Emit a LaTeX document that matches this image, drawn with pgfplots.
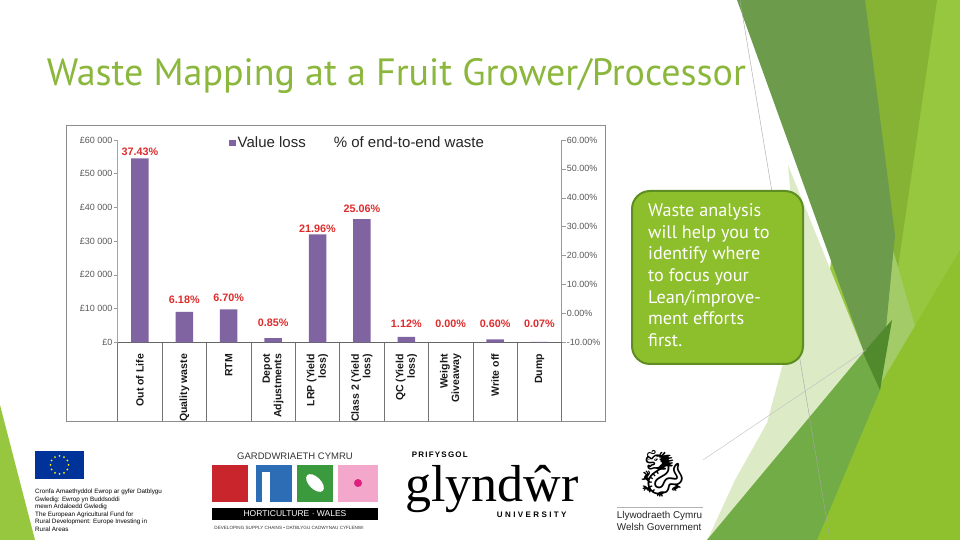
\documentclass[border=0pt]{standalone}
\usepackage{fontspec}
\setmainfont{Liberation Sans}
\newfontfamily\titlefont{PT Sans}
\newfontfamily\serffont{Liberation Serif}
\newfontfamily\emojifont{Noto Emoji}
\usepackage{graphicx}
\usepackage{pgfplots}
\usepackage{pgfplotstable}
\pgfplotsset{compat=1.18}

\definecolor{barcolor}{RGB}{128,100,162}
\definecolor{labelred}{RGB}{222,44,44}
\definecolor{titlegreen}{RGB}{139,183,60}
\definecolor{boxfill}{RGB}{141,190,43}
\definecolor{boxdraw}{RGB}{94,142,34}
\definecolor{gBright}{RGB}{151,198,63}
\definecolor{gMed}{RGB}{134,179,52}
\definecolor{gDark}{RGB}{108,155,76}
\definecolor{gYel}{RGB}{142,193,45}
\definecolor{gLow}{RGB}{114,172,70}
\definecolor{gPale}{RGB}{220,234,198}
\definecolor{gDeep}{RGB}{80,138,44}
\definecolor{gLight}{RGB}{163,204,104}
\definecolor{euBlue}{RGB}{0,51,153}
\definecolor{hRed}{RGB}{200,38,44}
\definecolor{hBlue}{RGB}{44,109,181}
\definecolor{hGreen}{RGB}{59,154,61}
\definecolor{hPink}{RGB}{242,167,203}
\definecolor{hMag}{RGB}{224,32,127}

\pgfplotstableread{
x y
0 54570
1 9010
2 9770
3 1240
4 32020
5 36540
6 1630
7 0
8 875
9 100
}\valueloss

\pgfplotstableread{
x ly pct
0 56530 37.43
1 12550 6.18
2 13140 6.70
3 5720 0.85
4 33600 21.96
5 39740 25.06
6 5600 1.12
7 5430 0.00
8 5500 0.60
9 5500 0.07
}\pctlabels

\begin{document}
\begin{tikzpicture}[x=1pt,y=1pt]
\useasboundingbox (0,0) rectangle (960,540);
\fill[white] (0,0) rectangle (960,540);

% ---------- background decoration (y measured downward) ----------
\begin{scope}[shift={(0,540)}, yscale=-1]
  \fill[gBright] (860,0) -- (960,0) -- (960,540) -- (800,540) -- cycle;
  \fill[gMed] (863,0) -- (937,0) -- (880,390) -- cycle;
  \fill[gLight] (893,250) -- (922,350) -- (877,425) -- cycle;
  \fill[gYel] (817,540) -- (877,390) -- (960,250) -- (960,540) -- cycle;
  \fill[gPale] (788,165) -- (865,355) -- (707,540) -- (712,530) -- (735,480) -- (767,423) -- (800,300) -- cycle;
  \fill[gDark] (737,0) -- (865,0) -- (895,235) -- (880,390) -- (865,355) -- cycle;
  \fill[gLow] (707,540) -- (863,353) -- (880,390) -- (817,540) -- cycle;
  \fill[gDeep] (863,353) -- (892,320) -- (880,390) -- cycle;
  \draw[black!35, line width=0.4pt] (740,0) -- (830,540);
  \draw[black!25, line width=0.4pt] (703,460) -- (866,350);
  \fill[gBright] (0,405) -- (35,540) -- (0,540) -- cycle;

  % ---------- chart frame ----------
  \draw[black!45, line width=0.8pt] (66,125) rectangle (605,421);

  % ---------- title ----------
  \node[anchor=base west, inner sep=0pt, text=titlegreen] at (46.7,86)
    {\resizebox{699pt}{!}{\titlefont\fontsize{34}{34}\selectfont Waste Mapping at a Fruit Grower/Processor}};

  % ---------- call-out box ----------
  \draw[fill=boxfill, draw=boxdraw, line width=2pt, rounded corners=18pt] (632,191) rectangle (803,364);
  \node[anchor=north west, inner sep=0pt, align=left, text=white,
        font=\titlefont\fontsize{18.2}{21.67}\selectfont] at (648,203.5)
    {Waste analysis\\will help you to\\identify where\\to focus your\\Lean/improve-\\ment efforts\\first.};

  % ---------- logos ----------
  % EU
  \fill[euBlue] (35,451) rectangle (84,479);
  \foreach \a in {0,30,...,330} \fill[yellow, shift={(59.5,465)}] (\a:9) circle (1pt);
  \node[anchor=north west, inner sep=0pt, align=left, font=\fontsize{6.3}{7.5}\selectfont] at (35,489)
    {Cronfa Amaethyddol Ewrop ar gyfer Datblygu\\Gwledig: Ewrop yn Buddsoddi\\mewn Ardaloedd Gwledig\\The European Agricultural Fund for\\Rural Development: Europe Investing in\\Rural Areas};
  % Horticulture Wales
  \node[font=\fontsize{9.5}{9.5}\selectfont, text=black!80] at (295,456) {GARDDWRIAETH CYMRU};
  \fill[hRed] (211.7,465) rectangle (248,501.7);
  \fill[hBlue] (256,465) rectangle (292,501.7);
  \fill[white] (262,472) rectangle (270,501.7);
  \fill[hGreen] (297,465) rectangle (333,501.7);
  \fill[white, rotate around={45:(315,483)}] (315,483) ellipse (11pt and 6pt);
  \fill[hPink] (338,465) rectangle (378,501.7);
  \fill[hMag] (358,483) circle (4pt);
  \fill[black] (211.7,508) rectangle (378,520);
  \node[text=white, font=\fontsize{8.5}{8.5}\selectfont] at (295,514) {HORTICULTURE · WALES};
  \node[font=\fontsize{4.6}{4.6}\selectfont, text=black!80] at (289,528) {DEVELOPING SUPPLY CHAINS • DATBLYGU CADWYNAU CYFLENWI};
  % Glyndwr
  \node[anchor=base west, inner sep=0pt, font=\bfseries\fontsize{8}{8}\selectfont\addfontfeatures{LetterSpace=15}] at (411.7,458) {PRIFYSGOL};
  \node[anchor=base west, inner sep=0pt, font=\serffont\fontsize{52}{52}\selectfont] at (405,501.7) {glyndŵr};
  \node[anchor=base west, inner sep=0pt, font=\bfseries\fontsize{8}{8}\selectfont\addfontfeatures{LetterSpace=30}] at (496.7,518) {UNIVERSITY};
  % Welsh Government
  \node[font=\emojifont\fontsize{46}{46}\selectfont] at (663,474) {🐉};
  \draw[black!30, line width=0.5pt] (617,507) -- (703,507);
  \node[anchor=north west, inner sep=0pt, align=left, font=\fontsize{9.9}{12}\selectfont, text=black!85] at (616.7,511.5)
    {Llywodraeth Cymru\\Welsh Government};
\end{scope}

% ---------- category separators ----------
\begin{axis}[
  at={(117.7pt,197.7pt)}, anchor=south west,
  scale only axis, width=444pt, height=202.3pt,
  xmin=-0.5, xmax=9.5, ymin=0, ymax=1,
  axis x line*=bottom, hide y axis,
  x axis line style={draw=none},
  xtick={-0.5,0.5,...,9.5}, xticklabel=\empty,
  tick align=outside, major tick length=78.5pt,
  xtick style={draw=black!55, line width=0.6pt},
]
\end{axis}

% ---------- main (left) axis ----------
\begin{axis}[
  at={(117.7pt,197.7pt)}, anchor=south west,
  scale only axis, width=444pt, height=202.3pt,
  xmin=-0.5, xmax=9.5, ymin=0, ymax=60000,
  clip=false, scaled y ticks=false,
  axis x line*=bottom, axis y line*=left,
  x axis line style={draw=black!60, line width=0.8pt, -},
  y axis line style={draw=black!35, line width=0.6pt, -},
  xtick={0,...,9},
  xticklabels={Out of Life, Quality waste, RTM, {Depot\\Adjustments}, {LRP (Yield\\loss)}, {Class 2 (Yield\\loss)}, {QC (Yield\\loss)}, {Weight\\Giveaway}, Write off, Dump},
  x tick label style={rotate=90, anchor=east, align=right, inner sep=0pt,
     font=\bfseries\fontsize{10.5}{11.5}\selectfont, text=black!90},
  xticklabel shift=7.5pt,
  xtick style={draw=none},
  ytick={0,10000,...,60000},
  yticklabels={£0,£10 000,£20 000,£30 000,£40 000,£50 000,£60 000},
  y tick label style={font=\fontsize{9}{9}\selectfont, text=black!65, inner sep=1pt},
  tick align=outside, major tick length=4pt,
  ytick style={draw=black!40, line width=0.5pt},
  /pgf/number format/assume math mode=true,
  legend columns=2,
  legend style={at={(0.2507,0.9837)}, anchor=west, draw=none, fill=none, inner sep=0pt,
     font=\fontsize{15}{15}\selectfont, text=black!85,
     /tikz/every even column/.append style={column sep=24pt}},
  legend cell align=left,
]
\addplot[ybar, bar width=17.5pt, fill=barcolor, draw=none,
  legend image code/.code={\fill[barcolor] (0pt,-3.2pt) rectangle (6.5pt,3.3pt);}]
  table[x=x, y=y] {\valueloss};
\addlegendentry{Value loss}
\addplot[draw=none, mark=none,
  legend image code/.code={},
  nodes near coords={\pgfmathprintnumber[fixed, fixed zerofill, precision=2]{\pgfplotspointmeta}\%},
  point meta=explicit,
  nodes near coords style={anchor=center, inner sep=0pt, text=labelred,
     font=\bfseries\fontsize{10.8}{10.8}\selectfont}]
  table[x=x, y=ly, meta=pct] {\pctlabels};
\addlegendentry{\% of end-to-end waste}
\end{axis}

% ---------- right axis ----------
\begin{axis}[
  at={(117.7pt,197.7pt)}, anchor=south west,
  scale only axis, width=444pt, height=202.3pt,
  xmin=-0.5, xmax=9.5, ymin=-10, ymax=60,
  hide x axis, axis y line*=right,
  y axis line style={draw=black!40, line width=0.6pt, -},
  ytick={-10,0,...,60},
  yticklabels={-10.00\%,0.00\%,10.00\%,20.00\%,30.00\%,40.00\%,50.00\%,60.00\%},
  y tick label style={font=\fontsize{9}{9}\selectfont, text=black!65, inner sep=1pt},
  tick align=outside, major tick length=4pt,
  ytick style={draw=black!40, line width=0.5pt},
]
\end{axis}
\end{tikzpicture}
\end{document}
